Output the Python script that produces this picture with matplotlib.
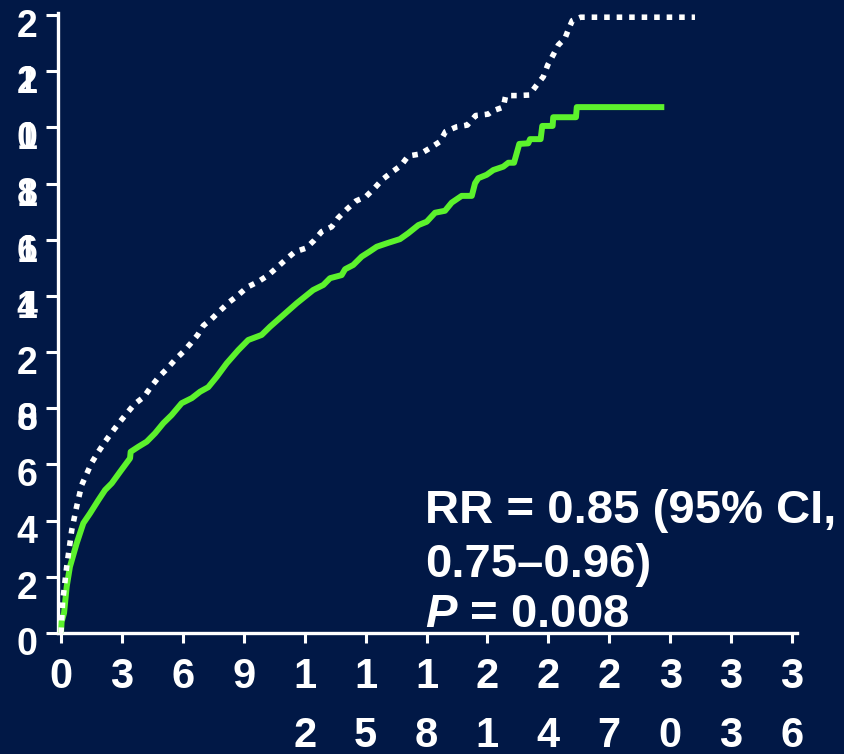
import matplotlib
matplotlib.use('Agg')
import matplotlib.pyplot as plt
import matplotlib.transforms as mtransforms

# ---------------- data ----------------
x_ticks = [0, 3, 6, 9, 12, 15, 18, 21, 24, 27, 30, 33, 36]
y_ticks = [0, 2, 4, 6, 8, 10, 12, 14, 16, 18, 20, 22]

# white dotted curve
ctrl_t = [0, 0.08, 0.28, 0.53, 0.77, 1.02, 1.51, 1.84, 2.17, 2.50, 2.87, 3.24, 3.61,
          4.09, 4.42, 4.79, 5.21, 5.61, 6.02, 6.39, 6.73, 7.01, 7.42, 7.83, 8.27,
          8.73, 9.17, 9.72, 10.21, 10.65, 11.08, 11.52, 12.07, 12.46, 12.84, 13.33,
          13.64, 14.07, 14.53, 15.01, 15.43, 15.84, 16.30, 16.74, 17.10, 17.68,
          18.17, 18.66, 18.94, 19.49, 20.01, 20.42, 21.04, 21.24, 21.78, 21.90,
          22.47, 23.06, 23.39, 23.75, 23.97, 24.24, 24.49, 24.82, 24.98, 25.18,
          25.59, 31.22]
ctrl_v = [0, 1.11, 2.36, 3.67, 4.50, 5.27, 6.06, 6.45, 6.81, 7.14, 7.49, 7.82, 8.14,
          8.41, 8.75, 9.09, 9.40, 9.72, 10.01, 10.31, 10.61, 10.94, 11.18, 11.47, 11.77,
          12.03, 12.31, 12.51, 12.74, 13.02, 13.30, 13.57, 13.70, 13.97, 14.29, 14.46,
          14.77, 15.08, 15.38, 15.53, 15.83, 16.15, 16.41, 16.64, 16.98, 17.05,
          17.26, 17.49, 17.85, 18.02, 18.08, 18.42, 18.47, 18.58, 18.72, 19.13,
          19.13, 19.15, 19.47, 19.80, 20.22, 20.58, 20.93, 21.17, 21.47, 21.80,
          21.92, 21.92]

# green solid curve
trt_t = [0, 0.03, 0.15, 0.28, 0.44, 0.77, 1.10, 1.43, 1.84, 2.17, 2.50, 2.91, 3.40,
         3.43, 3.81, 4.22, 4.63, 5.04, 5.45, 5.94, 6.44, 6.85, 7.25, 7.67, 8.16,
         8.73, 9.22, 9.88, 10.29, 10.95, 11.61, 12.42, 12.92, 13.25, 13.82, 13.99,
         14.39, 14.81, 15.18, 15.55, 16.12, 16.69, 17.10, 17.60, 18.01, 18.42,
         18.91, 19.24, 19.73, 20.23, 20.39, 20.55, 20.96, 21.29, 21.78, 22.03,
         22.31, 22.57, 23.01, 23.10, 23.62, 23.70, 24.21, 24.24, 25.36, 25.40, 29.71]
trt_v = [0, 0.40, 0.71, 1.65, 2.36, 3.19, 3.91, 4.26, 4.73, 5.09, 5.33, 5.74, 6.22,
         6.45, 6.63, 6.81, 7.11, 7.47, 7.76, 8.18, 8.36, 8.59, 8.75, 9.12, 9.60,
         10.07, 10.43, 10.61, 10.90, 11.32, 11.74, 12.21, 12.39, 12.63, 12.74, 12.95,
         13.10, 13.40, 13.57, 13.75, 13.89, 14.02, 14.23, 14.52, 14.64, 14.96,
         15.03, 15.32, 15.56, 15.56, 16.01, 16.19, 16.31, 16.48, 16.60, 16.74,
         16.74, 17.41, 17.43, 17.58, 17.58, 18.05, 18.05, 18.36, 18.36, 18.72, 18.72]

annot_lines = ["RR = 0.85 (95% CI,", "0.75\u20130.96)", "$P$ = 0.008"]

# ---------------- style ----------------
BG = '#011846'
GREEN = '#5CF22C'
plt.rcParams['font.family'] = ['Liberation Sans', 'DejaVu Sans']
plt.rcParams['mathtext.fontset'] = 'custom'
plt.rcParams['mathtext.it'] = 'Liberation Sans:italic:bold'
plt.rcParams['mathtext.rm'] = 'Liberation Sans:bold'
plt.rcParams['mathtext.bf'] = 'Liberation Sans:bold'

fig = plt.figure(figsize=(8.45, 7.54), dpi=100, facecolor=BG)
ax = fig.add_axes([58 / 845, 121 / 754, (797 - 58) / 845, (633 - 13) / 754])
ax.set_facecolor(BG)

ax.plot(trt_t, trt_v, color=GREEN, lw=4.3, solid_joinstyle='round', solid_capstyle='butt',
        clip_on=False, zorder=3)
ax.plot(ctrl_t, ctrl_v, color='white', lw=4.0, linestyle=(0, (1.0, 1.25)),
        dash_capstyle='butt', clip_on=False, zorder=3)

ax.set_xlim(-0.148, 36.245)
ax.set_ylim(0, 22.07)

for s in ['top', 'right']:
    ax.spines[s].set_visible(False)
for s in ['left', 'bottom']:
    ax.spines[s].set_color('white')
    ax.spines[s].set_linewidth(2.4)

ax.set_xticks(x_ticks)
ax.set_xticklabels(['\n'.join(str(v)) for v in x_ticks])
ax.set_yticks(y_ticks)
ax.set_yticklabels(['\n'.join(str(v)) for v in y_ticks])

ax.tick_params(axis='x', direction='out', length=7.5, width=2.2, color='white',
               labelcolor='white', labelsize=30, pad=10)
ax.tick_params(axis='y', direction='out', length=8.6, width=2.2, color='white',
               labelcolor='white', labelsize=27, pad=6)

for lbl in ax.get_xticklabels():
    lbl.set_fontweight('bold')
    lbl.set_linespacing(1.6)
    lbl.set_va('top')

off = mtransforms.ScaledTranslation(0, -12 / 100, fig.dpi_scale_trans)
for lbl in ax.get_yticklabels():
    lbl.set_fontweight('bold')
    lbl.set_linespacing(3.72)
    lbl.set_va('center')
    lbl.set_transform(lbl.get_transform() + off)

ys = [0.1774, 0.0903, 0.0097]
for line, yy in zip(annot_lines, ys):
    ax.text(0.497, yy, line, transform=ax.transAxes, color='white', fontsize=34,
            fontweight='bold', ha='left', va='baseline', zorder=4)

fig.savefig('out.png', dpi=100, facecolor=BG)
